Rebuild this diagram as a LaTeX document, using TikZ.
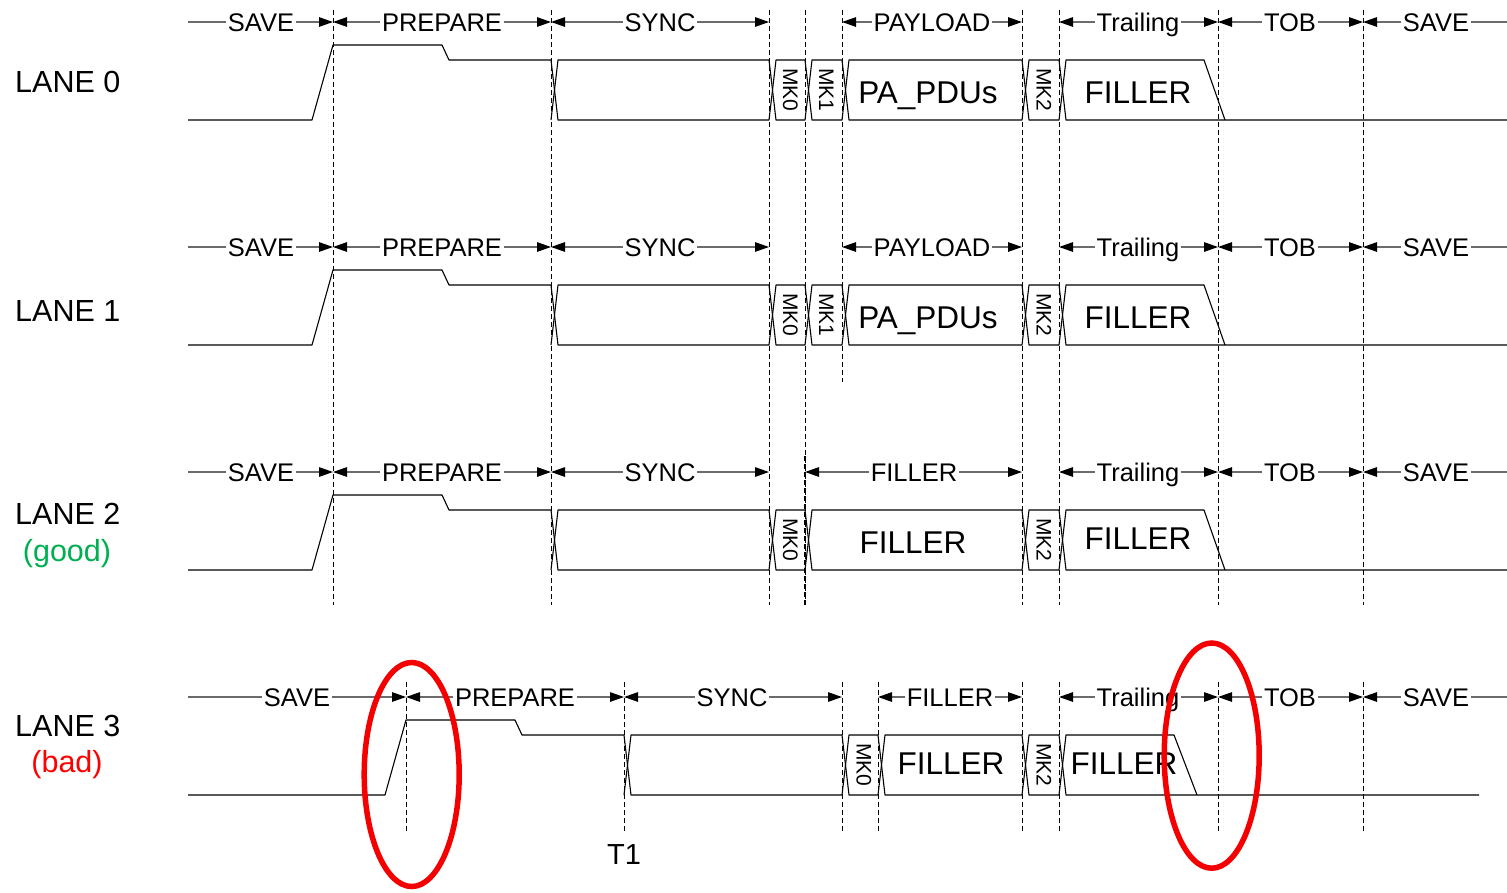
\documentclass[tikz,border=0pt]{standalone}
\usepackage{fontspec}
\setmainfont{Liberation Sans}
\usetikzlibrary{arrows.meta}
\definecolor{arrgray}{gray}{0.42}
\definecolor{goodgreen}{RGB}{0,176,80}
\definecolor{badred}{RGB}{255,0,0}
\definecolor{ellred}{RGB}{245,0,0}
\tikzset{
  sig/.style={line width=1.1pt, line join=round},
  arr/.style={line width=1.3pt, arrgray, -{Triangle[length=14pt,width=9.5pt,color=black]}},
  pl/.style={line width=1.3pt, arrgray},
  lbl/.style={font=\fontsize{25.5}{27}\selectfont, text height=18.3pt, text depth=0pt, inner ysep=0pt, inner xsep=1.5pt},
  big/.style={font=\fontsize{31.5}{33}\selectfont, text height=22.5pt, text depth=0pt, inner sep=0pt},
  mk/.style={font=\fontsize{21}{23}\selectfont, text height=15pt, text depth=0pt, inner sep=0pt, rotate=-90},
  dsh/.style={line width=0.8pt, dash pattern=on 5pt off 3pt},
  lanelbl/.style={font=\fontsize{30.5}{32}\selectfont, anchor=base west, inner sep=0pt},
  sublbl/.style={font=\fontsize{30.5}{32}\selectfont, anchor=base, inner sep=0pt},
  ring/.style={ellred, line width=5.5pt},
}
% arrow segment: name, text, left x, right x, centre x, left style, right style
\newcommand\tdSeg[7]{%
  \node[lbl] (#1) at (#5,22) {#2};
  \coordinate (#1l) at (#3,22);
  \coordinate (#1r) at (#4,22);
  \draw[#6] (#1) -- (#1l);
  \draw[#7] (#1) -- (#1r);}
\newcommand\tdPrep[5]{\draw[sig] (188,120) -- (#1,120) -- (#2,45) -- (#3,45) -- (#4,60) -- (#5,60) -- ({#5+3.5},90) -- (#5,120);}
\newcommand\tdBus[2]{\draw[sig] ({#1+3.5},90) -- ({#1+7},60) -- (#2,60) -- ({#2+3.5},90) -- (#2,120) -- ({#1+7},120) -- cycle;}
\newcommand\tdTrail[4]{%
  \draw[sig] ({#1+3.5},90) -- ({#1+7},60) -- (#2,60) -- (#3,120);
  \draw[sig] ({#1+3.5},90) -- ({#1+7},120) -- (#4,120);}
\newcommand\tdLaneA{%
  \tdSeg{sa}{SAVE}{188}{333}{261}{pl}{arr}
  \tdSeg{pr}{PREPARE}{333}{551}{442}{arr}{arr}
  \tdSeg{sy}{SYNC}{551}{769}{660}{arr}{arr}
  \tdSeg{pa}{PAYLOAD}{842}{1022}{932}{arr}{arr}
  \tdSeg{tr}{Trailing}{1059}{1218}{1138}{arr}{arr}
  \tdSeg{tob}{TOB}{1218}{1363}{1290}{arr}{arr}
  \tdSeg{sb}{SAVE}{1363}{1507}{1436}{arr}{pl}
  \tdPrep{312}{333}{442}{449}{551}
  \tdBus{551}{769}
  \tdBus{769}{805}
  \tdBus{805}{842}
  \tdBus{842}{1022}
  \tdBus{1022}{1059}
  \tdTrail{1059}{1204}{1225}{1507}
  \node[mk] (mk0) at (790.5,90) {MK0};
  \node[mk] (mk1) at (826.5,90) {MK1};
  \node[big] (pdu) at (928,92) {PA\_PDUs};
  \node[mk] (mk2) at (1044,90) {MK2};
  \node[big] (fil) at (1138,92) {FILLER};}
\begin{document}
\begin{tikzpicture}[x=1pt,y=-1pt]
\useasboundingbox (0,0) rectangle (1507,892);
% dashed time markers
\foreach \x in {333,551,769,805,1022,1059,1218,1363} \draw[dsh] (\x,10) -- (\x,605);
\draw[dsh] (842,10) -- (842,382);
\draw[dsh, line width=1.4pt] (805,456) -- (805,605);
\foreach \x in {406,624,842,878,1022,1059,1218,1363} \draw[dsh] (\x,682) -- (\x,831);
% lane labels
\node[lanelbl] (ln0) at (15,92) {LANE 0};
\node[lanelbl] (ln1) at (15,321) {LANE 1};
\node[lanelbl] (ln2) at (15,524) {LANE 2};
\node[sublbl, goodgreen] (good) at (67,561) {(good)};
\node[lanelbl] (ln3) at (15,736) {LANE 3};
\node[sublbl, badred] (bad) at (67,772) {(bad)};
% lane 0 and 1
\begin{scope}[name prefix=L0-]
  \tdLaneA
\end{scope}
\begin{scope}[yshift=-225pt, name prefix=L1-]
  \tdLaneA
\end{scope}
% lane 2
\begin{scope}[yshift=-450pt, name prefix=L2-]
  \tdSeg{sa}{SAVE}{188}{333}{261}{pl}{arr}
  \tdSeg{pr}{PREPARE}{333}{551}{442}{arr}{arr}
  \tdSeg{sy}{SYNC}{551}{769}{660}{arr}{arr}
  \tdSeg{fi}{FILLER}{805}{1022}{914}{arr}{arr}
  \tdSeg{tr}{Trailing}{1059}{1218}{1138}{arr}{arr}
  \tdSeg{tob}{TOB}{1218}{1363}{1290}{arr}{arr}
  \tdSeg{sb}{SAVE}{1363}{1507}{1436}{arr}{pl}
  \tdPrep{312}{333}{442}{449}{551}
  \tdBus{551}{769}
  \tdBus{769}{805}
  \tdBus{805}{1022}
  \tdBus{1022}{1059}
  \tdTrail{1059}{1204}{1225}{1507}
  \node[mk] (mk0) at (790.5,90) {MK0};
  \node[big] (fil1) at (913,92) {FILLER};
  \node[mk] (mk2) at (1044,90) {MK2};
  \node[big] (fil2) at (1138,88) {FILLER};
\end{scope}
% lane 3
\begin{scope}[yshift=-675pt, name prefix=L3-]
  \tdSeg{sa}{SAVE}{188}{406}{297}{pl}{arr}
  \tdSeg{pr}{PREPARE}{406}{624}{515}{arr}{arr}
  \tdSeg{sy}{SYNC}{624}{842}{732}{arr}{arr}
  \tdSeg{fi}{FILLER}{878}{1022}{950}{arr}{arr}
  \tdSeg{tr}{Trailing}{1059}{1218}{1138}{arr}{arr}
  \tdSeg{tob}{TOB}{1218}{1363}{1290}{arr}{arr}
  \tdSeg{sb}{SAVE}{1363}{1507}{1436}{arr}{pl}
  \tdPrep{385}{406}{515}{522}{624}
  \tdBus{624}{842}
  \tdBus{842}{878}
  \tdBus{878}{1022}
  \tdBus{1022}{1059}
  \tdTrail{1059}{1174}{1197}{1479}
  \node[mk] (mk0) at (864,90) {MK0};
  \node[big] (fil1) at (951,88) {FILLER};
  \node[mk] (mk2) at (1044,90) {MK2};
  \node[big] (fil2) at (1124,88) {FILLER};
\end{scope}
\node[font=\fontsize{29}{31}\selectfont, text height=20.8pt, text depth=0pt, inner sep=0pt] (t1) at (624,854) {T1};
% highlight rings
\draw[ring] (411.7,774.5) ellipse [x radius=47.5, y radius=112];
\draw[ring] (1211.7,755.6) ellipse [x radius=47.5, y radius=112.6];
\end{tikzpicture}
\end{document}
